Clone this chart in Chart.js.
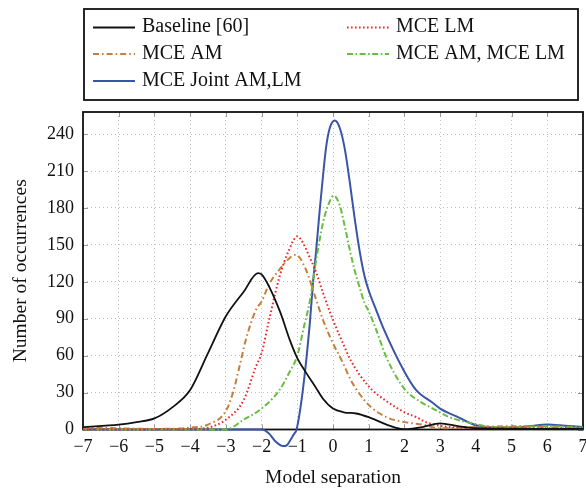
<!DOCTYPE html>
<html><head><meta charset="utf-8">
<script src="https://cdn.jsdelivr.net/npm/chart.js@4"></script>
<style>html,body{margin:0;padding:0;background:#fff;}</style>
</head><body>
<canvas id="c" width="586" height="491"></canvas>
<script>
// ---- data ----
const baselineX = [-7, -6, -5.5, -5, -4.5, -4, -3.5, -3, -2.5, -2.1, -2, -1.5, -1.2, -1, -0.75, -0.5, -0.28, 0, 0.3, 0.65, 1, 1.5, 1.9, 2.1, 2.5, 3, 3.5, 4, 5, 6, 7];
const baselineY = [2, 4, 6, 9, 18, 32, 62, 92, 112, 127, 126, 97, 72, 58, 46, 35, 25, 17, 14, 13, 10, 4, 0.5, 0.3, 2, 5, 2.7, 1, 0.5, 0.5, 0.5];

const lmX = [-7, -4, -3.5, -3, -2.5, -2.16, -2, -1.79, -1.5, -1.23, -1.0, -0.81, -0.67, -0.5, -0.28, 0, 0.28, 0.5, 1, 1.5, 2, 2.33, 2.6, 3, 3.5, 4, 5, 6, 7];
const lmY = [0, 0.3, 1.5, 8, 24, 51, 62, 89, 124, 146, 157, 150, 141, 130, 111, 89, 70, 56, 35, 23, 14, 10, 6, 3, 1.6, 1, 1, 1, 1];

const amX = [-7, -6.5, -6, -5, -4, -3.5, -3, -2.8, -2.62, -2.44, -2.16, -2, -1.79, -1.5, -1.23, -1.04, -0.76, -0.5, -0.28, 0, 0.28, 0.5, 1, 1.5, 2, 2.5, 3, 4, 5, 6, 7];
const amY = [0.5, 1.5, 1, 0.5, 1.5, 4, 15, 30, 51, 73, 97, 104, 118, 130, 139, 142, 130, 108, 89, 70, 54, 40, 20, 10, 6, 4, 1, 2, 2.7, 2, 0.5];

const amLmX = [-7, -3, -2.5, -2, -1.5, -1.23, -1, -0.81, -0.65, -0.47, -0.28, -0.14, 0.02, 0.19, 0.33, 0.47, 0.6, 0.74, 0.88, 1.0, 1.21, 1.49, 2, 2.42, 2.8, 3.26, 3.73, 4, 4.5, 5, 6, 7];
const amLmY = [0, 0, 8, 17, 32, 46, 60, 84, 104, 138, 168, 182, 190, 182, 165, 146, 130, 116, 103, 96, 81, 59, 33, 23, 17, 10, 6, 4.4, 2, 2, 2.7, 1.6];

const jointX = [-7, -2, -1.8, -1.6, -1.4, -1.3, -1.2, -1.1, -1.02, -0.84, -0.65, -0.56, -0.47, -0.37, -0.28, -0.19, -0.09, 0.05, 0.19, 0.33, 0.47, 0.6, 0.74, 0.88, 1.0, 1.21, 1.4, 2, 2.33, 2.8, 3, 3.5, 4, 4.5, 5, 5.5, 6, 6.5, 7];
const jointY = [0, 0, -3, -10, -13.5, -13, -9, -4, 0, 33, 86, 119, 146, 179, 206, 230, 245, 251, 245, 228, 201, 173, 146, 125, 113, 97, 83, 47, 32, 21.5, 17, 10, 3.5, 1.6, 1.6, 2.7, 4, 3, 2];

const seriesLabels = ['Baseline [60]', 'MCE LM', 'MCE AM', 'MCE AM, MCE LM', 'MCE Joint AM,LM'];
const xMin = -7, xMax = 7, xStep = 1;
const yMin = 0, yMax = 258, yStep = 30;

// ---- styles ----
const FONT = "'Liberation Serif', 'Times New Roman', serif";
const styles = [
  { color: '#111111', width: 1.8, dash: [] },
  { color: '#f0282a', width: 2.0, dash: [1.6, 2.4] },
  { color: '#c47f3e', width: 2.0, dash: [6, 3, 1.6, 3] },
  { color: '#66bd3e', width: 2.0, dash: [6, 2.5, 1.6, 2.5] },
  { color: '#3a55a8', width: 2.0, dash: [] }
];
const xs = [baselineX, lmX, amX, amLmX, jointX];
const ys = [baselineY, lmY, amY, amLmY, jointY];

const datasets = seriesLabels.map((label, i) => ({
  label,
  data: xs[i].map((x, k) => ({ x, y: ys[i][k] })),
  borderColor: styles[i].color,
  borderWidth: styles[i].width,
  borderDash: styles[i].dash,
  pointRadius: 0,
  fill: false,
  cubicInterpolationMode: 'monotone',
  clip: false
}));

const framePlugin = {
  id: 'frame',
  beforeDatasetsDraw(chart) {
    const { ctx, chartArea: a, scales } = chart;
    ctx.save();
    ctx.strokeStyle = '#9a9a9a';
    ctx.lineWidth = 1;
    scales.x.ticks.forEach(t => {
      const px = Math.round(scales.x.getPixelForValue(t.value)) + 0.5;
      ctx.beginPath(); ctx.moveTo(px, a.bottom); ctx.lineTo(px, a.bottom - 5);
      ctx.moveTo(px, a.top); ctx.lineTo(px, a.top + 5); ctx.stroke();
    });
    scales.y.ticks.forEach(t => {
      const py = Math.round(scales.y.getPixelForValue(t.value)) + 0.5;
      ctx.beginPath(); ctx.moveTo(a.left, py); ctx.lineTo(a.left + 5, py);
      ctx.moveTo(a.right, py); ctx.lineTo(a.right - 5, py); ctx.stroke();
    });
    ctx.strokeStyle = '#111';
    ctx.lineWidth = 1.8;
    ctx.strokeRect(a.left, a.top, a.right - a.left, a.bottom - a.top);
    ctx.restore();
  }
};

const legendPlugin = {
  id: 'boxLegend',
  afterDraw(chart) {
    const ctx = chart.ctx;
    ctx.save();
    ctx.fillStyle = '#fff';
    ctx.fillRect(84, 9, 494, 91);
    ctx.strokeStyle = '#111';
    ctx.lineWidth = 1.8;
    ctx.strokeRect(84, 9, 494, 91);
    const colX = [93, 347];
    const rowY = [27.5, 54, 81];
    chart.data.datasets.forEach((ds, i) => {
      const col = i % 2, row = Math.floor(i / 2);
      const x0 = colX[col], y0 = rowY[row];
      ctx.strokeStyle = ds.borderColor;
      ctx.lineWidth = ds.borderWidth;
      ctx.setLineDash(ds.borderDash);
      ctx.beginPath(); ctx.moveTo(x0, y0); ctx.lineTo(x0 + 42, y0); ctx.stroke();
      ctx.setLineDash([]);
      ctx.fillStyle = '#111';
      ctx.font = '20px ' + FONT;
      ctx.textBaseline = 'middle';
      ctx.textAlign = 'left';
      ctx.fillText(ds.label, x0 + 49, y0 - 0.5);
    });
    ctx.restore();
  }
};

const minus = v => (v < 0 ? '\u2212' + Math.abs(v) : String(v));

new Chart(document.getElementById('c'), {
  type: 'line',
  data: { datasets },
  options: {
    responsive: false,
    animation: false,
    devicePixelRatio: 1,
    layout: { padding: { top: 112, left: 0, right: 3, bottom: 0 } },
    plugins: { legend: { display: false }, tooltip: { enabled: false } },
    scales: {
      x: {
        type: 'linear', min: xMin, max: xMax,
        ticks: { stepSize: xStep, includeBounds: false, autoSkip: false, maxRotation: 0,
                 color: '#111', font: { family: FONT, size: 18 }, padding: 7, callback: minus },
        grid: { color: 'rgba(0,0,0,0.25)', drawTicks: false, lineWidth: 1 },
        border: { display: false, dash: [1, 3] },
        title: { display: true, text: 'Model separation', color: '#111',
                 font: { family: FONT, size: 19.5 }, padding: { top: 0, bottom: 1 } },
        afterFit: s => { s.height = 491 - 429.5; s.paddingLeft = 0; s.paddingRight = 0; }
      },
      y: {
        min: yMin, max: yMax,
        ticks: { stepSize: yStep, includeBounds: false, color: '#111',
                 font: { family: FONT, size: 18 }, padding: 9, callback: minus },
        grid: { color: 'rgba(0,0,0,0.25)', drawTicks: false, lineWidth: 1 },
        border: { display: false, dash: [1, 3] },
        title: { display: true, text: 'Number of occurrences', color: '#111',
                 font: { family: FONT, size: 19.5 }, padding: { top: 9, bottom: 0 } },
        afterFit: s => { s.width = 83; s.paddingTop = 0; s.paddingBottom = 0; }
      }
    }
  },
  plugins: [framePlugin, legendPlugin]
});
</script>
</body></html>
